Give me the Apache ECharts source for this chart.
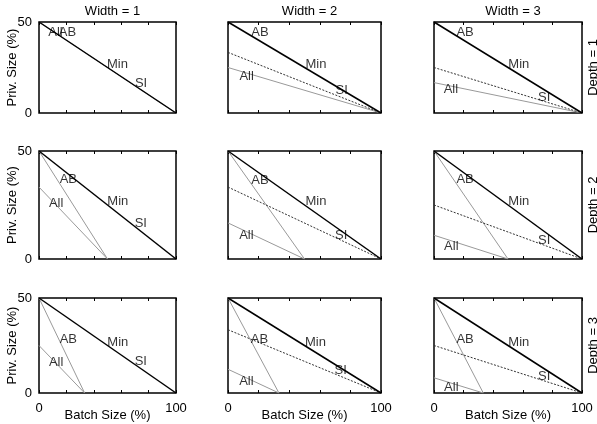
<!DOCTYPE html>
<html><head><meta charset="utf-8">
<script src="https://cdn.jsdelivr.net/npm/echarts@6/dist/echarts.min.js"></script>
<style>html,body{margin:0;padding:0;background:#fff}#c{width:597px;height:424px}</style>
</head><body><div id="c"></div>
<script>
const widthTitles = ['Width = 1', 'Width = 2', 'Width = 3'];
const depthTitles = ['Depth = 1', 'Depth = 2', 'Depth = 3'];
const xTicks = [0, 100];
const yTicks = [0, 50];
// Min / SI line (all panels)
const mainLine = [[0, 50], [100, 0]];
// AB (grey, steep) line end x per depth
const abEndX = [100, 50, 33.3];
// All (grey) line: start y per [depth][width], end x per depth
const allStartY = [[50, 25, 16.7], [33.3, 16.7, 11], [25, 12.5, 8]];
const allEndX = [100, 50, 33.3];
// dotted line start y per [depth][width] (null = none)
const dottedStartY = [[null, 33.3, 25], [null, 33.3, 25], [null, 33.3, 25]];
// label positions [x, y] per [depth][width]
const labelAB = [[[20.8, 44.5], [20.9, 44.5], [21, 44.5]], [[21.4, 36.9], [20.9, 36.6], [21, 36.9]], [[21.4, 28.4], [20.6, 28.4], [21, 28.4]]];
const labelMin = [[[57.3, 26.5], [57.5, 26.7], [57.3, 26.7]], [[57.5, 26.5], [57.5, 26.5], [57.3, 26.5]], [[57.5, 26.7], [57.2, 26.7], [57.3, 26.7]]];
const labelSI = [[[74.5, 16.5], [74.3, 12.3], [74.5, 8.6]], [[74.3, 16.5], [74, 11.1], [74.5, 8.8]], [[74.3, 16.8], [73.7, 12.1], [74.5, 8.6]]];
const labelAll = [[[12, 44.5], [12.2, 20.3], [11.4, 13]], [[12.5, 25.8], [12, 11.1], [11.7, 6]], [[12.5, 16.2], [12, 6.3], [11.7, 3]]];

const colLeft = [39, 228, 434], colRight = [176, 381, 582];
const rowTop = [22, 151, 298], rowBottom = [113, 259, 393];
const W = 597, H = 424;
const FONT = 'Liberation Sans, Arial, Helvetica, sans-serif';
const FS = 13;

const grids = [], xAxes = [], yAxes = [], series = [], titles = [], graphics = [];
for (let r = 0; r < 3; r++) {
  for (let c = 0; c < 3; c++) {
    const gi = grids.length;
    grids.push({left: colLeft[c], right: W - colRight[c], top: rowTop[r], bottom: H - rowBottom[r],
      show: true, borderColor: '#000', borderWidth: 1.5, backgroundColor: 'transparent'});
    xAxes.push({type: 'value', gridIndex: gi, min: 0, max: 100, interval: 20, position: 'bottom',
      axisLine: {show: false}, splitLine: {show: false},
      axisTick: {show: true, inside: true, length: 3, lineStyle: {color: '#000', width: 1}},
      axisLabel: {show: r === 2, margin: 9, color: '#000', fontFamily: FONT, fontSize: FS,
        formatter: v => xTicks.includes(v) ? String(v) : ''},
      name: r === 2 ? 'Batch Size (%)' : '', nameLocation: 'middle', nameGap: 16, nameMoveOverlap: false,
      nameTextStyle: {color: '#000', fontFamily: FONT, fontSize: FS}});
    xAxes.push({type: 'value', gridIndex: gi, min: 0, max: 100, interval: 20, position: 'top',
      axisLine: {show: false}, splitLine: {show: false}, axisLabel: {show: false},
      axisTick: {show: true, inside: true, length: 3, lineStyle: {color: '#000', width: 1}}});
    yAxes.push({type: 'value', gridIndex: gi, min: 0, max: 50, interval: 50,
      axisLine: {show: false}, splitLine: {show: false},
      axisTick: {show: false},
      axisLabel: {show: c === 0, margin: 7, color: '#000', fontFamily: FONT, fontSize: FS,
        formatter: v => yTicks.includes(v) ? String(v) : ''},
      name: c === 0 ? 'Priv. Size (%)' : '', nameLocation: 'middle', nameGap: 20, nameMoveOverlap: false,
      nameTextStyle: {color: '#000', fontFamily: FONT, fontSize: FS}});
    const xi = gi * 2, yi = gi;
    const base = {type: 'line', xAxisIndex: xi, yAxisIndex: yi, showSymbol: false, silent: true, animation: false};
    if (r > 0) {
      series.push(Object.assign({}, base, {data: [[0, 50], [abEndX[r], 0]], lineStyle: {color: '#999', width: 1}}));
    }
    series.push(Object.assign({}, base, {data: [[0, allStartY[r][c]], [allEndX[r], 0]], lineStyle: {color: '#999', width: 1}}));
    if (dottedStartY[r][c] !== null) {
      series.push(Object.assign({}, base, {data: [[0, dottedStartY[r][c]], [100, 0]], lineStyle: {color: '#333', width: 1, type: [2, 1.5]}}));
    }
    series.push(Object.assign({}, base, {data: mainLine, lineStyle: {color: '#000', width: 1.5}}));
    const lab = [[...labelAll[r][c], 'All'], [...labelAB[r][c], 'AB'], [...labelMin[r][c], 'Min'], [...labelSI[r][c], 'SI']];
    series.push({type: 'scatter', xAxisIndex: xi, yAxisIndex: yi, silent: true, animation: false,
      symbolSize: 0.1, itemStyle: {color: 'transparent'}, data: lab, z: 5,
      label: {show: true, position: 'inside', formatter: p => p.value[2], color: '#000', fontFamily: FONT, fontSize: FS}});
  }
}
for (let c = 0; c < 3; c++) {
  titles.push({text: widthTitles[c], left: (colLeft[c] + colRight[c]) / 2, top: 0, textAlign: 'center',
    textStyle: {color: '#000', fontFamily: FONT, fontSize: FS, fontWeight: 'normal'}});
}
for (let r = 0; r < 3; r++) {
  graphics.push({type: 'text', x: 593, y: (rowTop[r] + rowBottom[r]) / 2, rotation: Math.PI / 2,
    style: {text: depthTitles[r], fill: '#000', font: FS + 'px ' + FONT, align: 'center', verticalAlign: 'middle'}});
}
const chart = echarts.init(document.getElementById('c'), null, {renderer: 'canvas'});
chart.setOption({animation: false, backgroundColor: '#fff', title: titles, grid: grids, xAxis: xAxes, yAxis: yAxes, series: series, graphic: graphics});
</script></body></html>
